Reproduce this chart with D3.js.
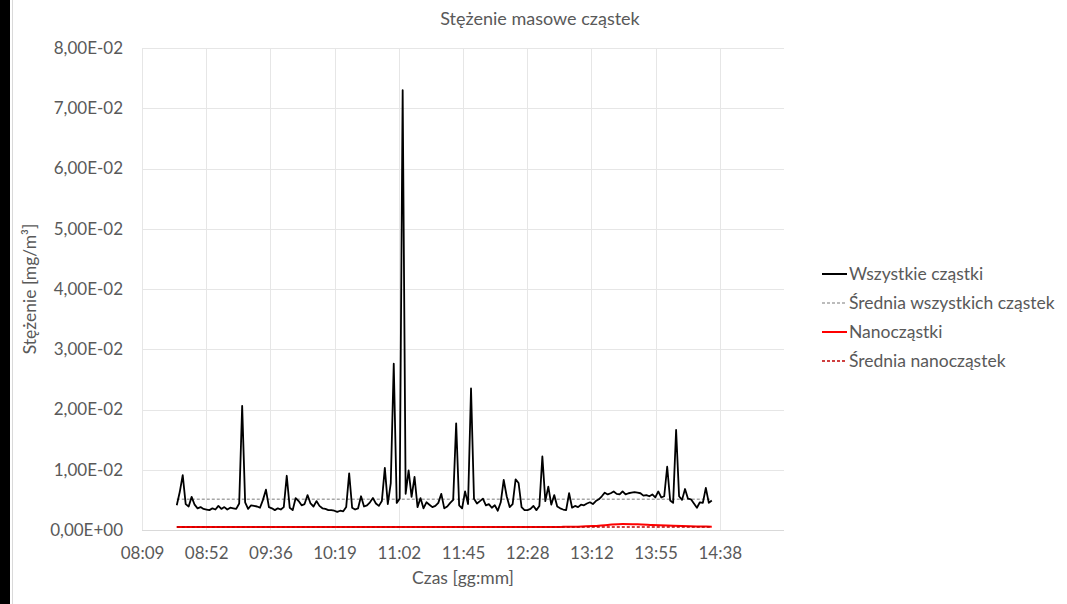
<!DOCTYPE html>
<html>
<head>
<meta charset="utf-8">
<script src="https://cdn.jsdelivr.net/npm/d3@7"></script>
<style>
  body { margin: 0; background: #fff; }
  text { font-family: Lato, "Noto Sans", sans-serif; fill: #595959; }
</style>
</head>
<body>
<svg width="1067" height="604"></svg>
<script>
// samples every 2 min starting 08:33 (day fraction), values in 1e-3 mg/m3
var startTime = 513 / 1440;
var stepMin = 2;
var allParticles = [
    4.1, 6.3, 9.1, 4.3, 3.9, 5.5, 4.2, 3.6, 3.8, 3.5,
    3.4, 3.3, 3.6, 3.4, 4.0, 3.5, 3.8, 3.4, 3.7, 3.6,
    3.5, 4.4, 20.6, 4.6, 3.5, 4.1, 4.0, 3.9, 3.7, 5.0,
    6.7, 3.8, 3.6, 3.3, 3.6, 3.4, 3.8, 9.0, 3.7, 3.3,
    5.3, 4.8, 4.1, 4.3, 5.8, 4.4, 3.9, 4.8, 4.0, 3.6,
    3.5, 3.3, 3.3, 3.2, 3.0, 3.2, 3.1, 3.8, 9.4, 3.7,
    3.4, 3.6, 5.6, 3.9, 4.1, 4.6, 5.3, 4.4, 4.0, 4.8,
    10.3, 4.3, 7.8, 27.6, 4.5, 5.2, 73.0, 6.0, 9.9, 5.5,
    8.8, 3.8, 5.3, 3.6, 4.6, 4.2, 3.8, 4.0, 4.5, 6.0,
    3.6, 3.9, 4.5, 5.0, 17.7, 4.1, 3.6, 6.4, 4.3, 23.5,
    5.2, 4.4, 4.8, 5.2, 4.1, 4.3, 3.7, 4.1, 3.2, 4.6,
    8.3, 5.6, 3.8, 4.3, 8.4, 7.8, 3.8, 3.3, 3.3, 3.5,
    4.0, 3.3, 4.0, 12.2, 4.8, 7.2, 4.2, 5.8, 3.9, 3.6,
    3.4, 3.3, 6.1, 3.7, 4.0, 3.8, 4.2, 4.1, 4.4, 4.6,
    4.3, 4.8, 5.1, 5.6, 6.2, 5.9, 6.1, 6.4, 6.0, 5.9,
    6.4, 5.9, 6.1, 6.2, 6.3, 6.2, 6.1, 5.7, 5.8, 5.6,
    5.9, 5.4, 6.4, 5.4, 5.6, 10.5, 4.9, 4.5, 16.6, 5.6,
    5.0, 6.8, 5.2, 5.1, 4.4, 3.7, 4.6, 4.5, 7.0, 4.5, 4.9
];
// nanoparticles, every 10 min from 08:33, 1e-3 mg/m3
var nanoStepMin = 10;
var nanoParticles = [
    0.50, 0.50, 0.48, 0.50, 0.50, 0.49, 0.50, 0.50, 0.48, 0.50,
    0.50, 0.49, 0.50, 0.51, 0.50, 0.50, 0.49, 0.50, 0.50, 0.48,
    0.49, 0.50, 0.49, 0.48, 0.50, 0.50, 0.52, 0.55, 0.65, 0.85,
    1.00, 0.95, 0.85, 0.75, 0.68, 0.60, 0.55
];
var avgAll = 5.1;
var avgNano = 0.5;

var yTicks = [0, 0.01, 0.02, 0.03, 0.04, 0.05, 0.06, 0.07, 0.08];
var xTicks = [0.34, 0.37, 0.40, 0.43, 0.46, 0.49, 0.52, 0.55, 0.58, 0.61];
var xTickLabels = ['08:09', '08:52', '09:36', '10:19', '11:02', '11:45', '12:28', '13:12', '13:55', '14:38'];

var seriesNames = ['Wszystkie cząstki', 'Średnia wszystkich cząstek', 'Nanocząstki', 'Średnia nanocząstek'];
var seriesColors = ['#000000', '#a6a6a6', '#ff0000', '#c00000'];

var svg = d3.select('svg');

// left black strip and chart border like the screenshot
svg.append('rect').attr('x', 0).attr('y', 0).attr('width', 10).attr('height', 604).attr('fill', '#000');
svg.append('line').attr('x1', 12.5).attr('x2', 12.5).attr('y1', 0).attr('y2', 604).attr('stroke', '#d9d9d9');

var plotL = 142, plotR = 784, plotT = 48, plotB = 530;

var x = d3.scaleLinear().domain([0.34, 0.64]).range([plotL, plotR]);
var y = d3.scaleLinear().domain([0, 0.08]).range([plotB, plotT]);

function fmtExp(v) {
    var s = v.toExponential(2).replace('.', ',');
    var parts = s.split('e');
    var sign = parts[1][0];
    var num = parts[1].slice(1);
    if (num.length < 2) num = '0' + num;
    return parts[0] + 'E' + sign + num;
}

// gridlines
var grid = svg.append('g').attr('class', 'grid');
grid.selectAll('.hgrid').data(yTicks.slice(1)).enter()
    .append('line').attr('class', 'hgrid')
    .attr('x1', plotL).attr('x2', plotR)
    .attr('y1', d => Math.round(y(d)) + 0.5).attr('y2', d => Math.round(y(d)) + 0.5)
    .attr('stroke', '#e6e6e6').attr('stroke-width', 1);
grid.selectAll('.vgrid').data(xTicks).enter()
    .append('line').attr('class', 'vgrid')
    .attr('x1', d => Math.round(x(d)) + 0.5).attr('x2', d => Math.round(x(d)) + 0.5)
    .attr('y1', plotT).attr('y2', plotB)
    .attr('stroke', '#e6e6e6').attr('stroke-width', 1);
grid.append('line')
    .attr('x1', plotL).attr('x2', plotR).attr('y1', plotB + 0.5).attr('y2', plotB + 0.5)
    .attr('stroke', '#d9d9d9').attr('stroke-width', 1);

// axis labels
var yAxis = d3.axisLeft(y).tickValues(yTicks).tickFormat(fmtExp).tickSize(0).tickPadding(19);
var yG = svg.append('g').attr('transform', 'translate(' + plotL + ',0)').call(yAxis);
yG.select('.domain').remove();
yG.selectAll('text').style('font-size', '17px').attr('fill', '#595959').style('font-family', 'Lato, sans-serif');

var xAxis = d3.axisBottom(x).tickValues(xTicks).tickFormat((d, i) => xTickLabels[i]).tickSize(0).tickPadding(17);
var xG = svg.append('g').attr('transform', 'translate(0,' + plotB + ')').call(xAxis);
xG.select('.domain').remove();
xG.selectAll('text').style('font-size', '17px').attr('fill', '#595959').style('font-family', 'Lato, sans-serif');

// series
var allData = allParticles.map((v, i) => ({ t: startTime + i * stepMin / 1440, v: v / 1000 }));
var nanoData = nanoParticles.map((v, i) => ({ t: startTime + i * nanoStepMin / 1440, v: v / 1000 }));
var tEnd = allData[allData.length - 1].t;

var line = d3.line().x(d => x(d.t)).y(d => y(d.v));

svg.append('path').datum(nanoData).attr('d', line.curve(d3.curveMonotoneX))
    .attr('fill', 'none').attr('stroke', seriesColors[2]).attr('stroke-width', 2);
line.curve(d3.curveLinear);
svg.append('path').datum([{ t: startTime, v: avgNano / 1000 }, { t: tEnd, v: avgNano / 1000 }]).attr('d', line)
    .attr('fill', 'none').attr('stroke', seriesColors[3]).attr('stroke-width', 1.3).attr('stroke-dasharray', '3,2');
svg.append('path').datum([{ t: startTime, v: avgAll / 1000 }, { t: tEnd, v: avgAll / 1000 }]).attr('d', line)
    .attr('fill', 'none').attr('stroke', seriesColors[1]).attr('stroke-width', 1.3).attr('stroke-dasharray', '3,2');
svg.append('path').datum(allData).attr('d', line)
    .attr('fill', 'none').attr('stroke', seriesColors[0]).attr('stroke-width', 1.8)
    .attr('stroke-linejoin', 'round');

// title
svg.append('text').attr('x', 540).attr('y', 25).attr('text-anchor', 'middle')
    .style('font-size', '18px').text('Stężenie masowe cząstek');

// axis titles
svg.append('text').attr('x', (plotL + plotR) / 2).attr('y', 584).attr('text-anchor', 'middle')
    .style('font-size', '17.5px').text('Czas [gg:mm]');
svg.append('text').attr('transform', 'translate(36,' + (plotT + plotB) / 2 + ') rotate(-90)')
    .attr('text-anchor', 'middle').style('font-size', '17.5px').text('Stężenie [mg/m³]');

// legend
var legend = svg.append('g').attr('transform', 'translate(822,274)');
var item = legend.selectAll('.item').data(seriesNames).enter()
    .append('g').attr('class', 'item')
    .attr('transform', (d, i) => 'translate(0,' + i * 29 + ')');
item.append('line').attr('x1', 0).attr('x2', 25).attr('y1', 0).attr('y2', 0)
    .attr('stroke', (d, i) => seriesColors[i])
    .attr('stroke-width', (d, i) => i % 2 === 0 ? 2 : 1.3)
    .attr('stroke-dasharray', (d, i) => i % 2 === 0 ? null : '3,2');
item.append('text').attr('x', 27).attr('dy', '0.35em').style('font-size', '17.5px').text(d => d);
</script>
</body>
</html>
